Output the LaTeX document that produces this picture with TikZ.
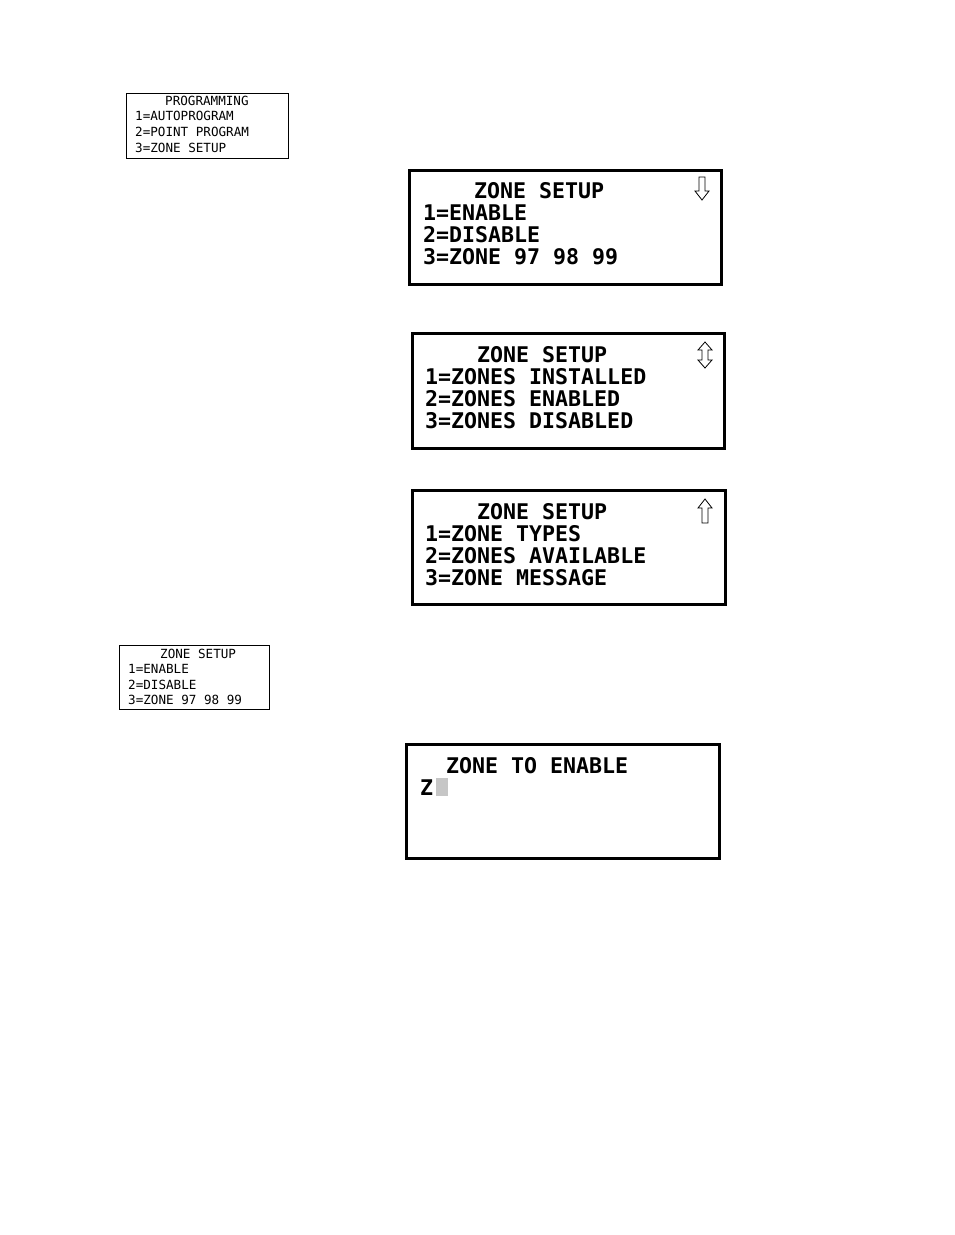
\documentclass[tikz,border=0pt]{standalone}
\usepackage{fontspec}
\newfontfamily\lcd{DejaVu Sans Mono}
\begin{document}
\begin{tikzpicture}[x=1pt,y=-1pt,
 big/.style={draw,line width=3.3pt},
 small/.style={draw,line width=0.9pt},
 bt/.style={anchor=base west,inner sep=0,font=\lcd\bfseries\fontsize{21.6}{22}\selectfont},
 st/.style={anchor=base west,inner sep=0,font=\lcd\fontsize{12.6}{13}\selectfont},
 arr/.style={draw,line width=0.8pt,fill=white}]
\useasboundingbox (0,0) rectangle (954,1235);
% box 1
\node[small,minimum width=162,minimum height=65,anchor=north west,inner sep=0] (p) at (126,93) {};
\node[st] (p0) at (165,105) {PROGRAMMING};
\node[st] (p1) at (135,120) {1=AUTOPROGRAM};
\node[st] (p2) at (135,136) {2=POINT PROGRAM};
\node[st] (p3) at (135,152) {3=ZONE SETUP};
% box 2
\node[big,minimum width=312,minimum height=114,anchor=north west,inner sep=0] (b2) at (407.5,168.5) {};
\node[bt] (b2a) at (474,198) {ZONE SETUP};
\node[bt] (b2b) at (423,220) {1=ENABLE};
\node[bt] (b2c) at (423,242) {2=DISABLE};
\node[bt] (b2d) at (423,264) {3=ZONE 97 98 99};
\draw[arr] (699,177)--(705,177)--(705,191)--(709,191)--(702,200)--(695,191)--(699,191)--cycle;
% box 3
\node[big,minimum width=312,minimum height=115,anchor=north west,inner sep=0] (b3) at (410.5,331.5) {};
\node[bt] (b3a) at (477,362) {ZONE SETUP};
\node[bt] (b3b) at (425,384) {1=ZONES INSTALLED};
\node[bt] (b3c) at (425,406) {2=ZONES ENABLED};
\node[bt] (b3d) at (425,428) {3=ZONES DISABLED};
\draw[arr] (705,342)--(712,350)--(708,350)--(708,360)--(712,360)--(705,368)--(698,360)--(702,360)--(702,350)--(698,350)--cycle;
% box 4
\node[big,minimum width=313,minimum height=114,anchor=north west,inner sep=0] (b4) at (410.5,488.5) {};
\node[bt] (b4a) at (477,519) {ZONE SETUP};
\node[bt] (b4b) at (425,541) {1=ZONE TYPES};
\node[bt] (b4c) at (425,563) {2=ZONES AVAILABLE};
\node[bt] (b4d) at (425,585) {3=ZONE MESSAGE};
\draw[arr] (705,499)--(712,508)--(708,508)--(708,523)--(702,523)--(702,508)--(698,508)--cycle;
% box 5
\node[small,minimum width=150,minimum height=64,anchor=north west,inner sep=0] (z) at (119,645) {};
\node[st] (z0) at (160,658) {ZONE SETUP};
\node[st] (z1) at (128,673) {1=ENABLE};
\node[st] (z2) at (128,689) {2=DISABLE};
\node[st] (z3) at (128,704) {3=ZONE 97 98 99};
% box 6
\node[big,minimum width=313,minimum height=114,anchor=north west,inner sep=0] (b6) at (404.5,742.5) {};
\node[bt] (b6a) at (446,773) {ZONE TO ENABLE};
\node[bt] (b6b) at (420,795) {Z};
\fill[gray!45] (436,778) rectangle (448,796);
\end{tikzpicture}
\end{document}
